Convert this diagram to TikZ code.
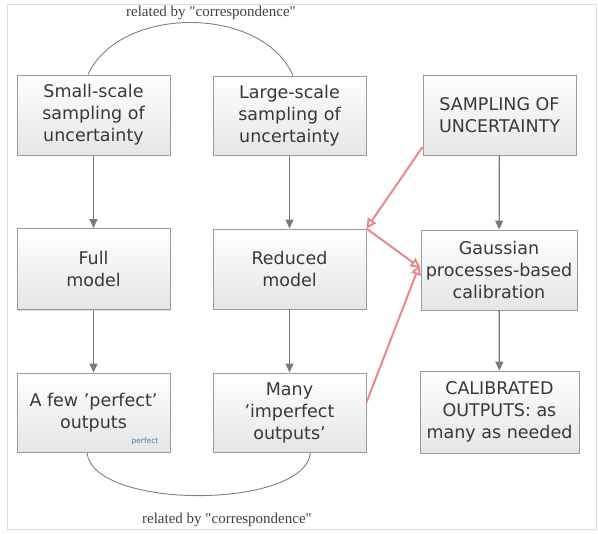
\documentclass[tikz,border=0pt]{standalone}
\usepackage{fontspec}
\setmainfont{DejaVu Sans}
\newfontfamily\labelfont{Liberation Serif}
\usetikzlibrary{arrows.meta,shadows}
\definecolor{txt}{HTML}{383838}
\definecolor{bord}{HTML}{9A9A9A}
\definecolor{garrow}{HTML}{7A7A7A}
\definecolor{rarrow}{HTML}{E8898A}
\definecolor{framec}{HTML}{DDDDDD}
\definecolor{smallblue}{HTML}{4A78B0}
\tikzset{
  box/.style={draw=bord, line width=0.9pt, top color=white, bottom color=black!10,
    drop shadow={shadow xshift=1.2pt, shadow yshift=-1.2pt, opacity=0.25},
    text=txt, align=center, inner sep=0pt, font=\fontsize{17.5}{22}\selectfont},
  garr/.style={draw=garrow, line width=1.3pt, -{Triangle[length=9pt, width=8pt]}},
  rarr/.style={draw=rarrow, line width=2pt, -{Triangle[open, length=10pt, width=10pt, fill=white]}},
  arc/.style={draw=black!50, line width=0.9pt},
  rel/.style={text=black!75, font=\labelfont\fontsize{15}{18}\selectfont, inner sep=0pt}
}
\begin{document}
\begin{tikzpicture}[x=1pt,y=-1pt]
\useasboundingbox (0,0) rectangle (598,534);
\fill[white] (0,0) rectangle (598,534);
\draw[framec, line width=0.8pt] (7,4) rectangle (596,529);

\node[box, minimum width=153pt, minimum height=80pt] (B1) at (93.5,115) {Small-scale\\sampling of\\uncertainty};
\node[box, minimum width=153pt, minimum height=79pt] (B2) at (289.5,115.5) {Large-scale\\sampling of\\uncertainty};
\node[box, minimum width=153pt, minimum height=80pt] (B3) at (499.5,115) {SAMPLING OF\\UNCERTAINTY};

\node[box, minimum width=153pt, minimum height=81pt] (F) at (93.5,269) {Full\\model};
\node[box, minimum width=153pt, minimum height=80pt] (R) at (289.5,269) {Reduced\\model};
\node[box, minimum width=156pt, minimum height=80pt] (G) at (499,270) {Gaussian\\processes-based\\calibration};

\node[box, minimum width=153pt, minimum height=79pt] (P) at (93.5,412.5) {A few ’perfect’\\outputs};
\node[box, minimum width=153pt, minimum height=79pt] (M) at (289.5,412.5) {Many\\’imperfect\\outputs’};
\node[box, minimum width=159pt, minimum height=82pt] (C) at (499.5,412) {CALIBRATED\\OUTPUTS: as\\many as needed};

\node[text=smallblue, font=\fontsize{7.5}{9}\selectfont, inner sep=0pt] (pf) at (145,441) {perfect};

\draw[garr] (B1) -- (F);
\draw[garr] (B2) -- (R);
\draw[garr] (B3) -- (G);
\draw[garr] (F) -- (P);
\draw[garr] (R) -- (M);
\draw[garr] (G) -- (C);

\coordinate (Bsrc) at ([yshift=-32pt]B3.west);
\coordinate (Gin1) at ([yshift=2pt]G.west);
\coordinate (Gin2) at ([xshift=-1pt,yshift=5pt]G.west);
\coordinate (Mout) at ([yshift=10pt]M.east);
\draw[rarr] (Bsrc) -- (R.north east);
\draw[rarr] (R.north east) -- (Gin1);
\draw[rarr] (Mout) -- (Gin2);

\draw[arc] ([xshift=-5.5pt]B1.north) .. controls (120,5) and (262,5) .. ([xshift=3.5pt]B2.north);
\draw[arc] ([xshift=-6.5pt]P.south) .. controls (92,510) and (305,510) .. ([xshift=21pt]M.south);

\node[rel] (t1) at (211,13) {related by "correspondence"};
\node[rel] (t2) at (227,520) {related by "correspondence"};
\end{tikzpicture}
\end{document}
